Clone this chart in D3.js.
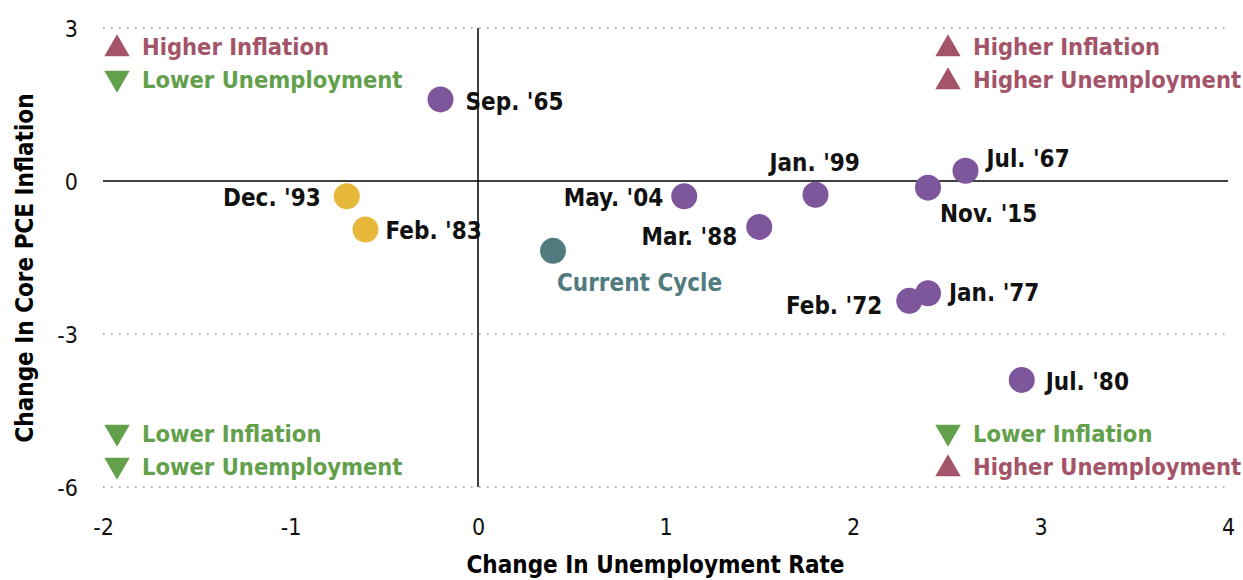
<html>
<head>
<meta charset="utf-8">
<script src="https://d3js.org/d3.v7.min.js"></script>
<style>
  body { margin: 0; background: #fff; }
  text { font-family: "Liberation Sans Narrow", "DejaVu Sans Condensed", "Open Sans", sans-serif; }
</style>
</head>
<body>
<div id="chart"></div>
<script>
// data
var labels  = ["Sep. '65", "Dec. '93", "Feb. '83", "Current Cycle", "May. '04", "Mar. '88", "Jan. '99", "Nov. '15", "Jul. '67", "Feb. '72", "Jan. '77", "Jul. '80"];
var unempChange = [-0.2, -0.7, -0.6, 0.4, 1.1, 1.5, 1.8, 2.4, 2.6, 2.3, 2.4, 2.9];
var inflChange  = [1.6, -0.3, -0.95, -1.37, -0.3, -0.9, -0.27, -0.13, 0.2, -2.35, -2.2, -3.9];
var groups = ["past", "low", "low", "current", "past", "past", "past", "past", "past", "past", "past", "past"];
var xTicks = [-2, -1, 0, 1, 2, 3, 4];
var yTicks = [3, 0, -3, -6];

// label placement relative to the dot: [anchor, dx, dy]
var labelPlace = [
  ["start", 25, 11], ["end", -26, 10], ["start", 20, 10], ["start", 4, 40],
  ["end", -21, 10], ["end", -22, 18], ["start", -46, -24], ["start", 12, 34],
  ["start", 21, -4], ["end", -27, 13], ["start", 21, 8], ["start", 24, 10]
];

var colors = { past: "#7d569c", low: "#e6b83b", current: "#517b7e" };
var red = "#a45468", green = "#63a04c";

var W = 1243, H = 580;
var margin = { top: 28, right: 15, bottom: 93, left: 103 };

var svg = d3.select("#chart").append("svg")
  .attr("width", W).attr("height", H);

var x = d3.scaleLinear().domain([-2, 4]).range([margin.left, W - margin.right]);
var y = d3.scaleLinear().domain([-6, 3]).range([H - margin.bottom, margin.top]);

// dotted grid
svg.append("g").selectAll("line")
  .data(yTicks.filter(function (d) { return d !== 0; }))
  .enter().append("line")
  .attr("x1", x(-2)).attr("x2", x(4))
  .attr("y1", function (d) { return y(d); }).attr("y2", function (d) { return y(d); })
  .style("stroke", "#999").style("stroke-width", 1.5).style("stroke-dasharray", "1.5,6.5");

// zero lines
svg.append("line").attr("x1", x(-2)).attr("x2", x(4)).attr("y1", y(0)).attr("y2", y(0))
  .style("stroke", "#000").style("stroke-width", 1.5);
svg.append("line").attr("x1", x(0)).attr("x2", x(0)).attr("y1", y(3)).attr("y2", y(-6))
  .style("stroke", "#000").style("stroke-width", 1.5);

// axes
var fmt = function (d) { return String(d); };
var xAxis = svg.append("g")
  .attr("transform", "translate(0," + (y(-6) + 29) + ")")
  .call(d3.axisBottom(x).tickValues(xTicks).tickSize(0).tickFormat(fmt));
xAxis.select(".domain").remove();
xAxis.selectAll("text").style("font-size", "23px").style("fill", "#111");

var yAxis = svg.append("g")
  .attr("transform", "translate(" + (x(-2) - 22) + ",0)")
  .call(d3.axisLeft(y).tickValues(yTicks).tickSize(0).tickFormat(fmt));
yAxis.select(".domain").remove();
yAxis.selectAll("text").style("font-size", "23px").style("fill", "#111").attr("dy", "0.35em");

// axis titles
svg.append("text")
  .attr("x", (x(-2) + x(4)) / 2 - 10).attr("y", 573)
  .attr("text-anchor", "middle")
  .style("font-size", "24px").style("font-weight", "bold")
  .text("Change In Unemployment Rate");

svg.append("text")
  .attr("transform", "translate(33," + 268 + ") rotate(-90)")
  .attr("text-anchor", "middle")
  .style("font-size", "24px").style("font-weight", "bold")
  .text("Change In Core PCE Inflation");

// quadrant notes
var notes = [
  { x: 117, y: 47, up: true, text: "Higher Inflation" },
  { x: 117, y: 80, up: false, text: "Lower Unemployment" },
  { x: 948, y: 47, up: true, text: "Higher Inflation" },
  { x: 948, y: 80, up: true, text: "Higher Unemployment" },
  { x: 117, y: 434, up: false, text: "Lower Inflation" },
  { x: 117, y: 467, up: false, text: "Lower Unemployment" },
  { x: 948, y: 434, up: false, text: "Lower Inflation" },
  { x: 948, y: 467, up: true, text: "Higher Unemployment" }
];
var tri = d3.symbol().type(d3.symbolTriangle).size(280);
var note = svg.append("g").selectAll("g").data(notes).enter().append("g")
  .attr("transform", function (d) { return "translate(" + d.x + "," + d.y + ")"; });
note.append("path")
  .attr("d", tri)
  .attr("transform", function (d) { return d.up ? "translate(0,2)" : "translate(0,-2) rotate(180)"; })
  .style("fill", function (d) { return d.up ? red : green; });
note.append("text")
  .attr("x", 25).attr("dy", "0.36em")
  .style("font-size", "23.5px").style("font-weight", "bold")
  .style("fill", function (d) { return d.up ? red : green; })
  .text(function (d) { return d.text; });

// points
var pts = labels.map(function (l, i) {
  return { label: l, ux: unempChange[i], iy: inflChange[i], g: groups[i], p: labelPlace[i] };
});

svg.append("g").selectAll("circle").data(pts).enter().append("circle")
  .attr("cx", function (d) { return x(d.ux); })
  .attr("cy", function (d) { return y(d.iy); })
  .attr("r", 13)
  .style("fill", function (d) { return colors[d.g]; });

svg.append("g").selectAll("text").data(pts).enter().append("text")
  .attr("x", function (d) { return x(d.ux) + d.p[1]; })
  .attr("y", function (d) { return y(d.iy) + d.p[2]; })
  .attr("text-anchor", function (d) { return d.p[0]; })
  .style("font-size", "24px").style("font-weight", "bold")
  .style("fill", function (d) { return d.g === "current" ? colors.current : "#111"; })
  .text(function (d) { return d.label; });
</script>
</body>
</html>
